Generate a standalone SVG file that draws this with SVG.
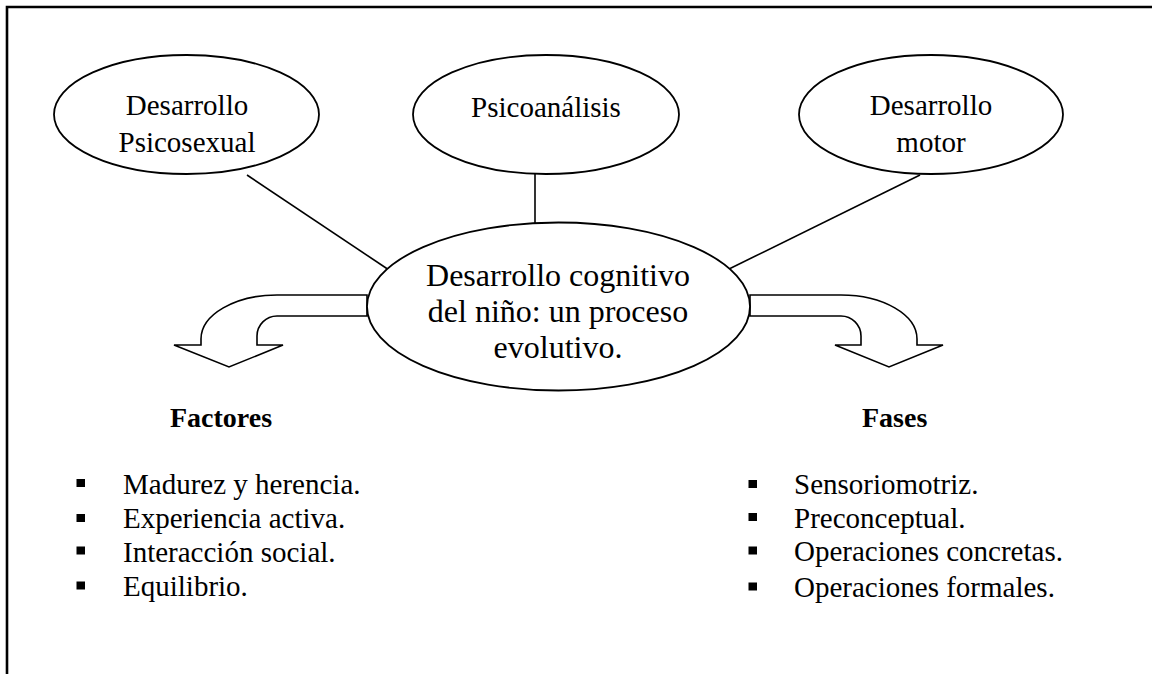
<svg xmlns="http://www.w3.org/2000/svg" width="1152" height="674" viewBox="0 0 1152 674">
<style>
.frame{fill:none;stroke:#000;stroke-width:2.6}
.node{fill:#fff;stroke:#000;stroke-width:1.8}
.conn{stroke:#000;stroke-width:1.6;fill:none}
.arrow{fill:#fff;stroke:#000;stroke-width:1.6;stroke-linejoin:miter}
.t{font-family:"Liberation Serif","Times New Roman",serif;fill:#000}
.s{font-size:29px;text-anchor:middle}
.c{font-size:32px;text-anchor:middle}
.h{font-size:28px;font-weight:bold}
.li{font-size:29px}
.b{fill:#000}
</style>
<rect width="1152" height="674" fill="#fff"/>
<path class="frame" d="M7,674 L7,7 L1152,7"/>
<g id="connectors">
<line class="conn" x1="247" y1="175" x2="392" y2="272"/>
<line class="conn" x1="535" y1="174" x2="535" y2="223"/>
<line class="conn" x1="920" y1="175" x2="727" y2="270"/>
<path id="arrow-left" class="arrow" d="M367,295 L277,295 A76,44 0 0 0 201,339 L201,345 L174,345 L229,367 L283,345 L257,345 L257,336 A20,20 0 0 1 277,316 L367,316 Z"/>
<path id="arrow-right" class="arrow" d="M750,295 L841,295 A76,44 0 0 1 917,339 L917,345 L943,345 L889,367 L835,345 L861,345 L861,336 A20,20 0 0 0 841,316 L750,316 Z"/>
</g>
<g id="node-psicosexual">
<ellipse class="node" cx="186.5" cy="114.5" rx="132.5" ry="59.5"/>
<text class="t s" x="187" y="115">Desarrollo</text>
<text class="t s" x="187" y="151.5">Psicosexual</text>
</g>
<g id="node-psicoanalisis">
<ellipse class="node" cx="546" cy="114.5" rx="133" ry="59.5"/>
<text class="t s" x="546" y="116.5">Psicoanálisis</text>
</g>
<g id="node-motor">
<ellipse class="node" cx="931" cy="114.5" rx="132" ry="59.5"/>
<text class="t s" x="931" y="115">Desarrollo</text>
<text class="t s" x="931" y="151.5">motor</text>
</g>
<g id="node-central">
<ellipse class="node" cx="558.5" cy="306.5" rx="191.5" ry="84"/>
<text class="t c" x="558" y="285.5">Desarrollo cognitivo</text>
<text class="t c" x="558" y="321.5">del niño: un proceso</text>
<text class="t c" x="558" y="358">evolutivo.</text>
</g>
<g id="factores">
<text class="t h" x="170" y="426.5">Factores</text>
<rect class="b" x="76.5" y="479" width="8.5" height="8"/>
<rect class="b" x="76.5" y="514" width="8.5" height="8"/>
<rect class="b" x="76.5" y="546.5" width="8.5" height="8"/>
<rect class="b" x="76.5" y="581.5" width="8.5" height="8"/>
<text class="t li" x="123" y="493.5">Madurez y herencia.</text>
<text class="t li" x="123" y="528">Experiencia activa.</text>
<text class="t li" x="123" y="561.5">Interacción social.</text>
<text class="t li" x="123" y="595.5">Equilibrio.</text>
</g>
<g id="fases">
<text class="t h" x="862" y="426.5">Fases</text>
<rect class="b" x="748.5" y="480" width="8.5" height="8"/>
<rect class="b" x="748.5" y="513" width="8.5" height="8"/>
<rect class="b" x="748.5" y="546.5" width="8.5" height="8"/>
<rect class="b" x="748.5" y="582.5" width="8.5" height="8"/>
<text class="t li" x="794" y="493.5">Sensoriomotriz.</text>
<text class="t li" x="794" y="528">Preconceptual.</text>
<text class="t li" x="794" y="561">Operaciones concretas.</text>
<text class="t li" x="794" y="596.5">Operaciones formales.</text>
</g>
</svg>
